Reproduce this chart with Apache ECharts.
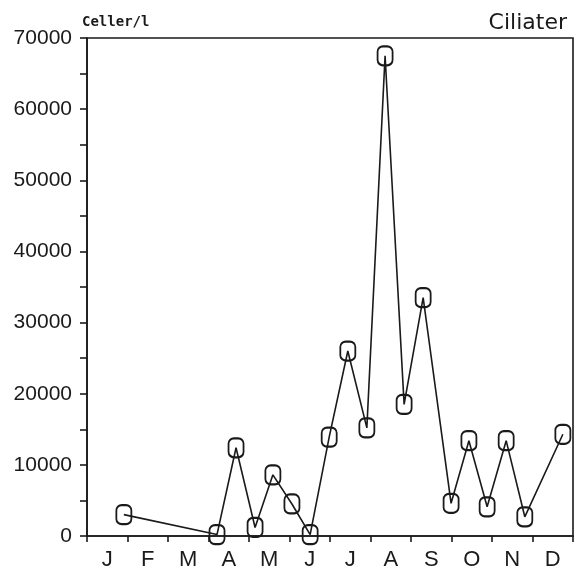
<!DOCTYPE html>
<html>
<head>
<meta charset="utf-8">
<script src="https://cdn.jsdelivr.net/npm/echarts@6/dist/echarts.min.js"></script>
<style>
  html, body { margin: 0; padding: 0; background: #fff; }
  #chart { width: 580px; height: 574px; }
</style>
</head>
<body>
<div id="chart"></div>
<script>
// Month initials along the bottom axis
const months = ['J', 'F', 'M', 'A', 'M', 'J', 'J', 'A', 'S', 'O', 'N', 'D'];
// Sampling times, in months from 1 January
const sampleTime = [0.91, 3.21, 3.68, 4.15, 4.59, 5.06, 5.51, 5.98, 6.44, 6.91,
                    7.36, 7.83, 8.30, 8.99, 9.43, 9.88, 10.35, 10.81, 11.75];
// Ciliate abundance, cells per litre
const ciliates = [3000, 200, 12400, 1200, 8600, 4500, 200, 13900, 26000, 15200,
                  67500, 18500, 33500, 4600, 13400, 4100, 13400, 2700, 14300];
// Y axis labels
const yTicks = [0, 10000, 20000, 30000, 40000, 50000, 60000, 70000];

const ink = '#1a1a1a';
// Rounded-box marker with generous corner radius
const boxMarker = 'path://M5,0 H9 A5,5 0 0 1 14,5 V13 A5,5 0 0 1 9,18 H5 A5,5 0 0 1 0,13 V5 A5,5 0 0 1 5,0 Z';

const chart = echarts.init(document.getElementById('chart'), null, { renderer: 'canvas' });

chart.setOption({
  animation: false,
  backgroundColor: '#fff',
  title: [
    { text: 'Ciliater', right: 8, top: 7,
      textStyle: { fontFamily: 'DejaVu Sans', fontSize: 22, fontWeight: 'normal', color: ink } },
    { text: 'Celler/l', left: 77, top: 10,
      textStyle: { fontFamily: 'DejaVu Sans Mono', fontSize: 14, fontWeight: 'bold', color: ink } }
  ],
  grid: { left: 87, right: 7, top: 38, bottom: 38, show: true,
          borderColor: ink, borderWidth: 1.6, backgroundColor: 'transparent' },
  xAxis: [
    {
      type: 'category', data: months, boundaryGap: true, position: 'bottom',
      axisLine: { lineStyle: { color: ink, width: 1.6 } },
      axisTick: { show: true, length: 6, alignWithLabel: false, lineStyle: { color: ink, width: 1.6 } },
      axisLabel: { fontFamily: 'Liberation Sans', fontSize: 22, color: ink, margin: 13 },
      splitLine: { show: false }
    },
    {
      type: 'value', min: 0, max: 12, show: false
    }
  ],
  yAxis: {
    type: 'value', min: 0, max: 70000, interval: 5000,
    axisLine: { show: true, lineStyle: { color: ink, width: 1.6 } },
    axisTick: { show: true, length: 7, lineStyle: { color: ink, width: 1.6 } },
    axisLabel: {
      fontFamily: 'Liberation Sans', fontSize: 21, color: ink, margin: 15,
      formatter: v => yTicks.includes(v) ? String(v) : ''
    },
    splitLine: { show: false }
  },
  series: [{
    type: 'line',
    xAxisIndex: 1,
    data: sampleTime.map((t, i) => [t, ciliates[i]]),
    symbol: boxMarker,
    symbolSize: [15, 19],
    showAllSymbol: true,
    lineStyle: { color: ink, width: 1.6 },
    itemStyle: { color: 'rgba(0,0,0,0)', borderColor: ink, borderWidth: 2 },
    z: 3
  }]
});
</script>
</body>
</html>
